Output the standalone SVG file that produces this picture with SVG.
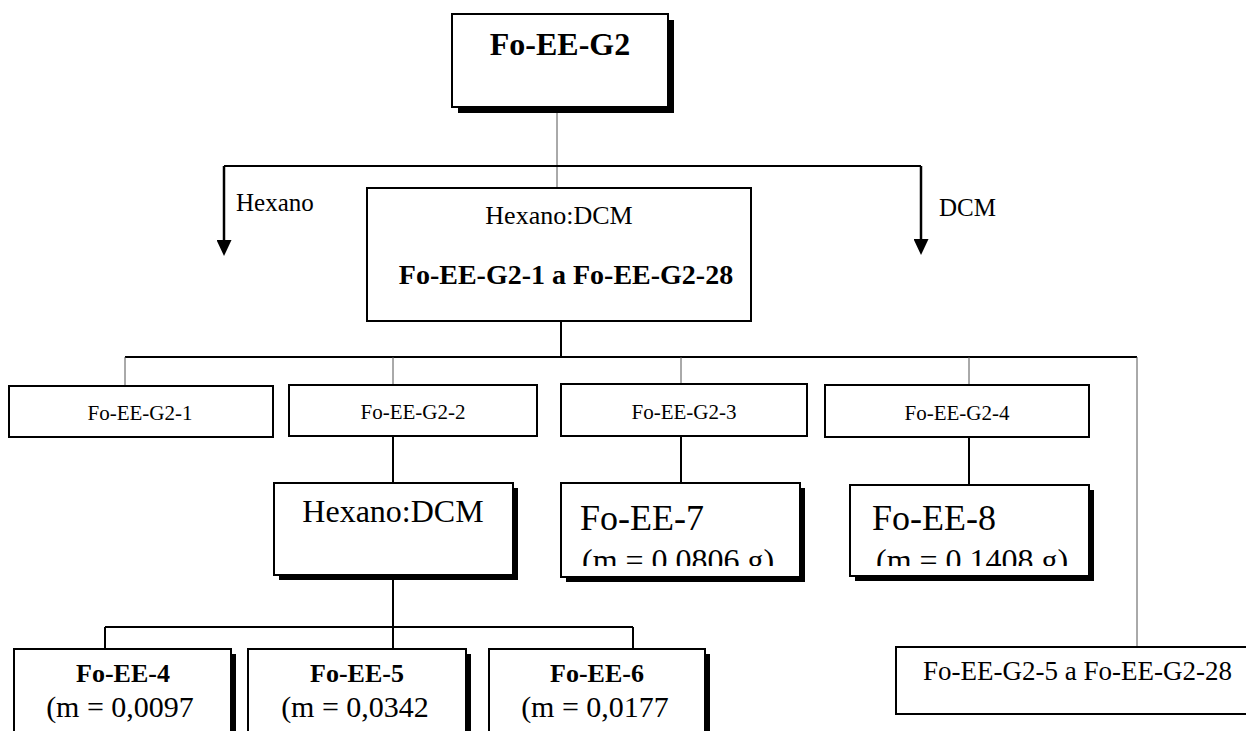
<svg xmlns="http://www.w3.org/2000/svg" width="1246" height="731" viewBox="0 0 1246 731">
  <style>
    .box{fill:#fff;stroke:#000;stroke-width:2}
    .shadow{fill:#000;stroke:none}
    .t{font-family:"Liberation Serif","Times New Roman",serif;fill:#000}
    .b{font-weight:bold}
    .mid{text-anchor:middle}
    .wire{stroke:#000;stroke-width:2;fill:none}
    .thin{stroke:#555;stroke-width:1;fill:none}
    .arrow{stroke:#000;stroke-width:2.5;fill:none}
  </style>
  <defs>
    <marker id="head" viewBox="0 0 16 15" markerWidth="16" markerHeight="15" markerUnits="userSpaceOnUse" refX="0" refY="7.5" orient="auto">
      <path d="M0,0 L16,7.5 L0,15 z" fill="#000"/>
    </marker>
    <clipPath id="clip7"><rect x="562" y="484" width="237" height="82"/></clipPath>
    <clipPath id="clip8"><rect x="851" y="486" width="237" height="80"/></clipPath>
  </defs>

  <rect width="1246" height="731" fill="#fff"/>

  <!-- connectors -->
  <g id="connectors">
    <path class="thin" d="M557,107 V188"/>
    <path class="wire" d="M224,166 H921"/>
    <path class="arrow" d="M224,166 V240" marker-end="url(#head)"/>
    <path class="arrow" d="M921,166 V239" marker-end="url(#head)"/>
    <path class="wire" d="M561,321 V357"/>
    <path class="wire" d="M125,357 H1137"/>
    <path class="thin" d="M125,357 V386"/>
    <path class="thin" d="M393,357 V385"/>
    <path class="thin" d="M681,357 V384"/>
    <path class="thin" d="M969,357 V385"/>
    <path class="thin" d="M1137,357 V648"/>
    <path class="wire" d="M393,436 V483"/>
    <path class="wire" d="M681,436 V483"/>
    <path class="wire" d="M969,437 V485"/>
    <path class="wire" d="M393,575 V627"/>
    <path class="wire" d="M105,627 H633"/>
    <path class="wire" d="M105,627 V649"/>
    <path class="wire" d="M393,627 V649"/>
    <path class="wire" d="M633,627 V649"/>
  </g>

  <!-- edge labels -->
  <text class="t" x="236" y="211" font-size="25">Hexano</text>
  <text class="t" x="939" y="216" font-size="25">DCM</text>

  <g id="root">
    <rect class="shadow" x="458" y="20" width="216" height="93"/>
    <rect class="box" x="452" y="14" width="216" height="93"/>
    <text class="t b mid" x="560" y="55" font-size="32">Fo-EE-G2</text>
  </g>

  <g id="column">
    <rect class="box" x="367" y="188" width="384" height="133"/>
    <text class="t mid" x="559" y="224" font-size="26">Hexano:DCM</text>
    <text class="t b mid" x="566" y="284" font-size="28">Fo-EE-G2-1 a Fo-EE-G2-28</text>
  </g>

  <g id="g2-1">
    <rect class="box" x="9" y="386" width="264" height="51"/>
    <text class="t mid" x="140" y="420" font-size="21">Fo-EE-G2-1</text>
  </g>
  <g id="g2-2">
    <rect class="box" x="289" y="385" width="248" height="51"/>
    <text class="t mid" x="413" y="419" font-size="21">Fo-EE-G2-2</text>
  </g>
  <g id="g2-3">
    <rect class="box" x="561" y="384" width="246" height="52"/>
    <text class="t mid" x="684" y="419" font-size="21">Fo-EE-G2-3</text>
  </g>
  <g id="g2-4">
    <rect class="box" x="825" y="385" width="264" height="52"/>
    <text class="t mid" x="957" y="420" font-size="21">Fo-EE-G2-4</text>
  </g>

  <g id="subcolumn">
    <rect class="shadow" x="279" y="488" width="239" height="92"/>
    <rect class="box" x="274" y="483" width="239" height="92"/>
    <text class="t mid" x="393" y="522" font-size="32">Hexano:DCM</text>
  </g>

  <g id="fo-ee-7">
    <rect class="shadow" x="566" y="488" width="239" height="94"/>
    <rect class="box" x="561" y="483" width="239" height="94"/>
    <g clip-path="url(#clip7)">
      <text class="t" x="580" y="530" font-size="36">Fo-EE-7</text>
      <text class="t" x="582" y="571" font-size="32">(m = 0.0806 g)</text>
    </g>
  </g>

  <g id="fo-ee-8">
    <rect class="shadow" x="855" y="490" width="239" height="91"/>
    <rect class="box" x="850" y="485" width="239" height="91"/>
    <g clip-path="url(#clip8)">
      <text class="t" x="872" y="530" font-size="36">Fo-EE-8</text>
      <text class="t" x="876" y="571" font-size="32">(m = 0.1408 g)</text>
    </g>
  </g>

  <g id="fo-ee-4">
    <rect class="shadow" x="19" y="654" width="217" height="100"/>
    <rect class="box" x="14" y="649" width="217" height="100"/>
    <text class="t b mid" x="123" y="682" font-size="26">Fo-EE-4</text>
    <text class="t mid" x="120" y="717" font-size="30">(m = 0,0097</text>
  </g>
  <g id="fo-ee-5">
    <rect class="shadow" x="253" y="654" width="218" height="100"/>
    <rect class="box" x="248" y="649" width="218" height="100"/>
    <text class="t b mid" x="357" y="682" font-size="26">Fo-EE-5</text>
    <text class="t mid" x="355" y="717" font-size="30">(m = 0,0342</text>
  </g>
  <g id="fo-ee-6">
    <rect class="shadow" x="494" y="654" width="216" height="100"/>
    <rect class="box" x="489" y="649" width="216" height="100"/>
    <text class="t b mid" x="597" y="682" font-size="26">Fo-EE-6</text>
    <text class="t mid" x="595" y="717" font-size="30">(m = 0,0177</text>
  </g>

  <g id="rest">
    <rect class="box" x="896" y="647" width="360" height="67"/>
    <text class="t" x="923" y="680" font-size="27">Fo-EE-G2-5 a Fo-EE-G2-28</text>
  </g>
</svg>
